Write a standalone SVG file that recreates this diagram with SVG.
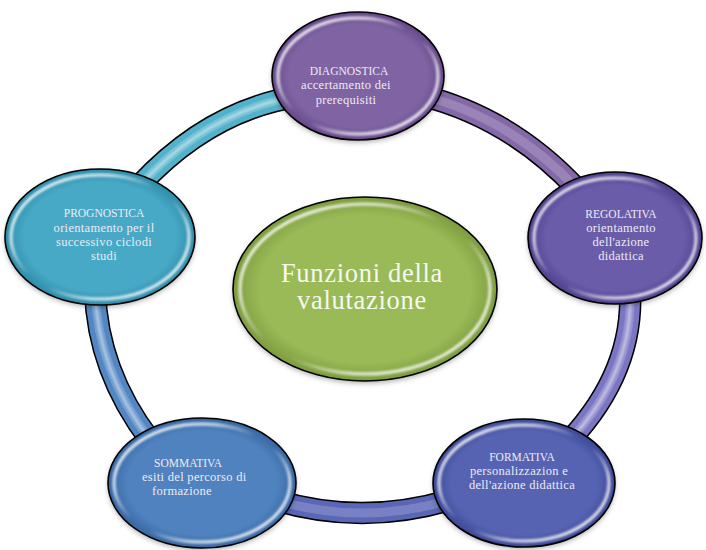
<svg xmlns="http://www.w3.org/2000/svg" xmlns:xlink="http://www.w3.org/1999/xlink" width="706" height="550" viewBox="0 0 706 550">
<style>
.out{fill:none;stroke:#000;stroke-width:22.5}
.band{fill:none;stroke-width:19.5}
.shine{fill:none;stroke:#fff;stroke-width:9;stroke-opacity:.18}
.stripe{fill:none;stroke:#fff;stroke-width:3;stroke-opacity:.45;filter:url(#soft)}
.edge{fill:none;stroke:#000;stroke-width:1.6}
.rim{fill:none;stroke:url(#rimg);stroke-width:3.5;filter:url(#soft)}
.t{font-family:"Liberation Serif","Times New Roman",serif;fill:#eeeaf4;text-anchor:middle;font-size:12.5px;letter-spacing:.3px}
.h{font-size:11.5px;letter-spacing:0px}
.big{font-family:"Liberation Serif","Times New Roman",serif;fill:#f7f8f0;text-anchor:middle;font-size:26.5px;letter-spacing:.7px}
</style>
<defs>
<filter id="soft" x="-10%" y="-10%" width="120%" height="120%"><feGaussianBlur stdDeviation="1"/></filter>
<filter id="sh" x="-10%" y="-10%" width="125%" height="130%"><feDropShadow dx="0" dy="2.5" stdDeviation="2.5" flood-color="#000" flood-opacity=".3"/></filter>
<linearGradient id="rimg" x1="0" y1="0" x2="1" y2="1">
<stop offset="0" stop-color="#fff" stop-opacity=".9"/>
<stop offset=".28" stop-color="#fff" stop-opacity=".65"/>
<stop offset=".45" stop-color="#fff" stop-opacity="0"/>
<stop offset=".55" stop-color="#fff" stop-opacity="0"/>
<stop offset=".72" stop-color="#fff" stop-opacity=".65"/>
<stop offset="1" stop-color="#fff" stop-opacity=".9"/>
</linearGradient>
<radialGradient id="gD"><stop offset=".8" stop-color="#7f64a2"/><stop offset="1" stop-color="#65488a"/></radialGradient>
<radialGradient id="gR"><stop offset=".8" stop-color="#6a5ba8"/><stop offset="1" stop-color="#4f408e"/></radialGradient>
<radialGradient id="gF"><stop offset=".8" stop-color="#5664b2"/><stop offset="1" stop-color="#3c4896"/></radialGradient>
<radialGradient id="gS"><stop offset=".8" stop-color="#4f82be"/><stop offset="1" stop-color="#3666a2"/></radialGradient>
<radialGradient id="gP"><stop offset=".8" stop-color="#47a9c5"/><stop offset="1" stop-color="#2d8caa"/></radialGradient>
<radialGradient id="gC"><stop offset=".8" stop-color="#9aba58"/><stop offset="1" stop-color="#7d9c3e"/></radialGradient>
<path id="s1" d="M140,185 Q210,109.5 300,96"/>
<path id="s2" d="M420,95 Q511,117.5 578,190"/>
<path id="s3" d="M630,290 Q634,371 570,440"/>
<path id="s4" d="M450,500 Q361.5,526 275,500"/>
<path id="s5" d="M150,440 Q97.5,371 95,290"/>
</defs>
<rect width="706" height="550" fill="#fff"/>
<g id="connectors">
<use xlink:href="#s1" class="out"/><use xlink:href="#s1" class="band" stroke="#52b2cb"/><use xlink:href="#s1" class="shine"/><use xlink:href="#s1" class="stripe"/>
<use xlink:href="#s2" class="out"/><use xlink:href="#s2" class="band" stroke="#8469a8"/><use xlink:href="#s2" class="shine"/>
<use xlink:href="#s3" class="out"/><use xlink:href="#s3" class="band" stroke="#7b76c4"/><use xlink:href="#s3" class="shine"/><use xlink:href="#s3" class="stripe"/>
<use xlink:href="#s4" class="out"/><use xlink:href="#s4" class="band" stroke="#5a66b6"/><use xlink:href="#s4" class="shine"/>
<use xlink:href="#s5" class="out"/><use xlink:href="#s5" class="band" stroke="#5287c4"/><use xlink:href="#s5" class="shine"/><use xlink:href="#s5" class="stripe"/>
</g>
<g id="node-diagnostica">
<ellipse cx="358" cy="76" rx="86" ry="64" fill="url(#gD)" filter="url(#sh)"/>
<ellipse cx="358" cy="76" rx="80" ry="58" class="rim"/>
<ellipse cx="358" cy="76" rx="86" ry="64" class="edge"/>
<text class="t h" x="349" y="75">DIAGNOSTICA</text>
<text class="t" x="346" y="89.3">accertamento dei</text>
<text class="t" x="346" y="103.5">prerequisiti</text>
</g>
<g id="node-regolativa">
<ellipse cx="615" cy="238" rx="87" ry="66" fill="url(#gR)" filter="url(#sh)"/>
<ellipse cx="615" cy="238" rx="81" ry="60" class="rim"/>
<ellipse cx="615" cy="238" rx="87" ry="66" class="edge"/>
<text class="t h" x="621" y="218">REGOLATIVA</text>
<text class="t" x="621" y="232">orientamento</text>
<text class="t" x="621" y="246">dell'azione</text>
<text class="t" x="621" y="260">didattica</text>
</g>
<g id="node-formativa">
<ellipse cx="524" cy="483" rx="91" ry="64" fill="url(#gF)" filter="url(#sh)"/>
<ellipse cx="524" cy="483" rx="85" ry="58" class="rim"/>
<ellipse cx="524" cy="483" rx="91" ry="64" class="edge"/>
<text class="t h" x="522" y="461">FORMATIVA</text>
<text class="t" x="519" y="475">personalizzazion e</text>
<text class="t" x="522" y="489">dell'azione didattica</text>
</g>
<g id="node-sommativa">
<ellipse cx="202" cy="483" rx="94" ry="65" fill="url(#gS)" filter="url(#sh)"/>
<ellipse cx="202" cy="483" rx="88" ry="59" class="rim"/>
<ellipse cx="202" cy="483" rx="94" ry="65" class="edge"/>
<text class="t h" x="154" y="466.7" style="text-anchor:start">SOMMATIVA</text>
<text class="t" x="142" y="481" style="text-anchor:start">esiti del percorso di</text>
<text class="t" x="152" y="494.5" style="text-anchor:start">formazione</text>
</g>
<g id="node-prognostica">
<ellipse cx="100" cy="237" rx="95" ry="68" fill="url(#gP)" filter="url(#sh)"/>
<ellipse cx="100" cy="237" rx="89" ry="62" class="rim"/>
<ellipse cx="100" cy="237" rx="95" ry="68" class="edge"/>
<text class="t h" x="104" y="217.3">PROGNOSTICA</text>
<text class="t" x="104" y="231.7">orientamento per il</text>
<text class="t" x="104" y="246">successivo ciclodi</text>
<text class="t" x="104" y="260">studi</text>
</g>
<g id="node-center">
<ellipse cx="365" cy="289" rx="132" ry="92" fill="url(#gC)" filter="url(#sh)"/>
<ellipse cx="365" cy="289" rx="125" ry="85" class="rim"/>
<ellipse cx="365" cy="289" rx="132" ry="92" class="edge"/>
<text class="big" x="362" y="281.7">Funzioni della</text>
<text class="big" x="362" y="309.3">valutazione</text>
</g>
</svg>
